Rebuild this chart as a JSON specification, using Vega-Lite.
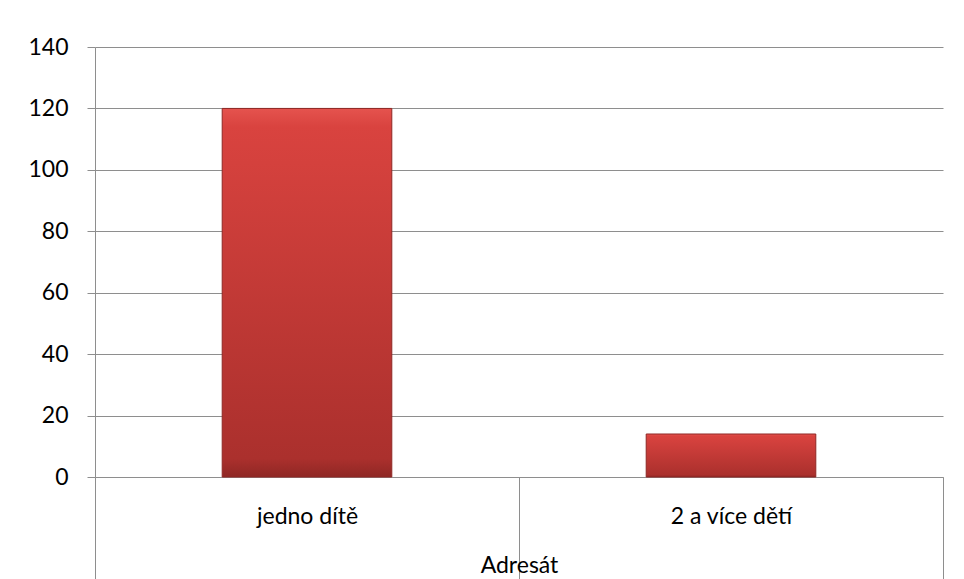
{
  "$schema": "https://vega.github.io/schema/vega-lite/v6.json",
  "width": 848,
  "height": 430,
  "autosize": "none",
  "padding": {"left": 95, "top": 47, "right": 21, "bottom": 102},
  "background": "white",
  "config": {"view": {"stroke": null}, "font": "Lato"},
  "data": {"values": [
    {"Adresat": "jedno dítě", "pocet": 120},
    {"Adresat": "2 a více dětí", "pocet": 14}
  ]},
  "mark": {
    "type": "bar",
    "width": {"band": 0.4},
    "stroke": "#8f2724",
    "strokeWidth": 1,
    "color": {
      "gradient": "linear", "x1": 0, "y1": 0, "x2": 0, "y2": 1,
      "stops": [
        {"offset": 0, "color": "#e5534e"},
        {"offset": 0.05, "color": "#d9433f"},
        {"offset": 0.95, "color": "#ab302d"},
        {"offset": 1, "color": "#8f2724"}
      ]
    }
  },
  "encoding": {
    "x": {
      "field": "Adresat", "type": "nominal", "sort": null,
      "scale": {"paddingInner": 0, "paddingOuter": 0},
      "axis": {
        "title": "Adresát",
        "titleFontSize": 23, "titleFontWeight": "normal", "titleColor": "#000000",
        "titleBaseline": "middle", "titleY": 88,
        "labelAngle": 0, "labelFontSize": 23, "labelColor": "#000000",
        "labelBaseline": "middle", "labelPadding": -63,
        "tickBand": "extent", "tickSize": 102, "tickColor": "#8e8e8e",
        "domainColor": "#8e8e8e",
        "encode": {"ticks": {"update": {"y2": {"signal": "datum.index === 0 ? 51 : 102"}}}}
      }
    },
    "y": {
      "field": "pocet", "type": "quantitative",
      "scale": {"domain": [0, 140], "nice": false},
      "axis": {
        "title": null, "values": [0, 20, 40, 60, 80, 100, 120, 140],
        "grid": true, "gridColor": "#8e8e8e", "tickColor": "#8e8e8e", "domainColor": "#8e8e8e",
        "tickSize": 8, "labelPadding": 19, "labelFontSize": 23, "labelColor": "#000000"
      }
    }
  }
}
